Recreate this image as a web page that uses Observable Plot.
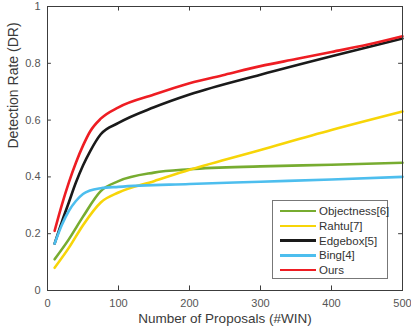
<!DOCTYPE html>
<html>
<head>
<meta charset="utf-8">
<script src="https://cdn.jsdelivr.net/npm/d3@7"></script>
<script src="https://cdn.jsdelivr.net/npm/@observablehq/plot@0.6"></script>
<style>
  body { margin: 0; background: #fff; font-family: "Liberation Sans", Arial, sans-serif; }
  #wrap { position: relative; width: 411px; height: 332px; }
  #legend { position: absolute; left: 272px; top: 200px; width: 114px; height: 77px; border: 1px solid #777; background: #fff; box-sizing: content-box; }
  .row { position: absolute; left: 0; height: 14px; font-size: 11.5px; color: #333; }
  .sw { position: absolute; left: 7px; width: 36px; height: 2.4px; }
  .lb { position: absolute; left: 46px; top: -7px; white-space: nowrap; line-height: 14px; }
</style>
</head>
<body>
<div id="wrap"><div id="legend"></div></div>
<script>
const seriesNames = ["Objectness[6]", "Rahtu[7]", "Edgebox[5]", "Bing[4]", "Ours"];
const seriesColors = ["#77AC30", "#F7D508", "#1a1a1a", "#4DBEEE", "#EE1D23"];

const objectnessX = [10, 30, 50, 75, 100, 150, 200, 300, 400, 500];
const objectnessY = [0.11, 0.18, 0.26, 0.35, 0.385, 0.415, 0.427, 0.437, 0.443, 0.45];

const rahtuX = [10, 30, 50, 75, 100, 150, 200, 300, 400, 500];
const rahtuY = [0.08, 0.15, 0.23, 0.31, 0.345, 0.385, 0.425, 0.495, 0.565, 0.63];

const edgeboxX = [10, 20, 30, 40, 50, 60, 75, 100, 150, 200, 300, 400, 500];
const edgeboxY = [0.165, 0.24, 0.31, 0.38, 0.44, 0.49, 0.55, 0.59, 0.645, 0.69, 0.76, 0.825, 0.887];

const bingX = [10, 20, 30, 40, 50, 60, 75, 100, 200, 300, 400, 500];
const bingY = [0.165, 0.23, 0.28, 0.315, 0.34, 0.352, 0.36, 0.365, 0.375, 0.383, 0.391, 0.40];

const oursX = [10, 20, 30, 40, 50, 60, 75, 100, 150, 200, 250, 300, 350, 400, 450, 500];
const oursY = [0.21, 0.30, 0.38, 0.45, 0.51, 0.56, 0.605, 0.645, 0.69, 0.73, 0.76, 0.79, 0.815, 0.84, 0.865, 0.895];

const xTicks = [0, 100, 200, 300, 400, 500];
const yTicks = [0, 0.2, 0.4, 0.6, 0.8, 1];
const yTickLabels = ["0", "0.2", "0.4", "0.6", "0.8", "1"];

const seriesX = [objectnessX, rahtuX, edgeboxX, bingX, oursX];
const seriesY = [objectnessY, rahtuY, edgeboxY, bingY, oursY];

const data = [];
seriesNames.forEach((name, i) => {
  seriesX[i].forEach((x, j) => data.push({series: name, x, y: seriesY[i][j]}));
});

const axisColor = "#3c3c3c";
const chart = Plot.plot({
  width: 411,
  height: 332,
  marginLeft: 47,
  marginRight: 9,
  marginTop: 6,
  marginBottom: 42,
  style: {fontFamily: "'Liberation Sans', Arial, sans-serif", fontSize: "11px", color: "#555", background: "#fff"},
  x: {domain: [0, 500]},
  y: {domain: [0, 1]},
  color: {domain: seriesNames, range: seriesColors},
  marks: [
    Plot.axisX(xTicks, {tickSize: 0, tickPadding: 9, label: null, fill: "#555"}),
    Plot.axisY(yTicks, {tickSize: 0, tickPadding: 7, label: null, tickFormat: (d, i) => yTickLabels[i], fill: "#555"}),
    Plot.ruleX(xTicks, {x: d => d, y1: 0, y2: 0.016, stroke: axisColor}),
    Plot.ruleX(xTicks, {x: d => d, y1: 1, y2: 0.984, stroke: axisColor}),
    Plot.ruleY(yTicks, {y: d => d, x1: 0, x2: 5.5, stroke: axisColor}),
    Plot.ruleY(yTicks, {y: d => d, x1: 500, x2: 494.5, stroke: axisColor}),
    Plot.line(data, {x: "x", y: "y", z: "series", stroke: "series", strokeWidth: 2.6, curve: "monotone-x"}),
    Plot.frame({stroke: axisColor, strokeWidth: 1}),
    Plot.text(["Number of Proposals (#WIN)"], {frameAnchor: "bottom", dy: 32, fontSize: 13.5, fill: "#3a3a3a"}),
    Plot.text(["Detection Rate (DR)"], {frameAnchor: "left", dx: -34, rotate: -90, fontSize: 14, fill: "#3a3a3a"})
  ]
});
document.getElementById("wrap").prepend(chart);

const legend = document.getElementById("legend");
seriesNames.forEach((name, i) => {
  const row = document.createElement("div");
  row.className = "row";
  row.style.top = (10 + i * 14.8) + "px";
  row.innerHTML = `<div class="sw" style="background:${seriesColors[i]};top:-1.2px"></div><div class="lb">${name}</div>`;
  legend.appendChild(row);
});
</script>
</body>
</html>
